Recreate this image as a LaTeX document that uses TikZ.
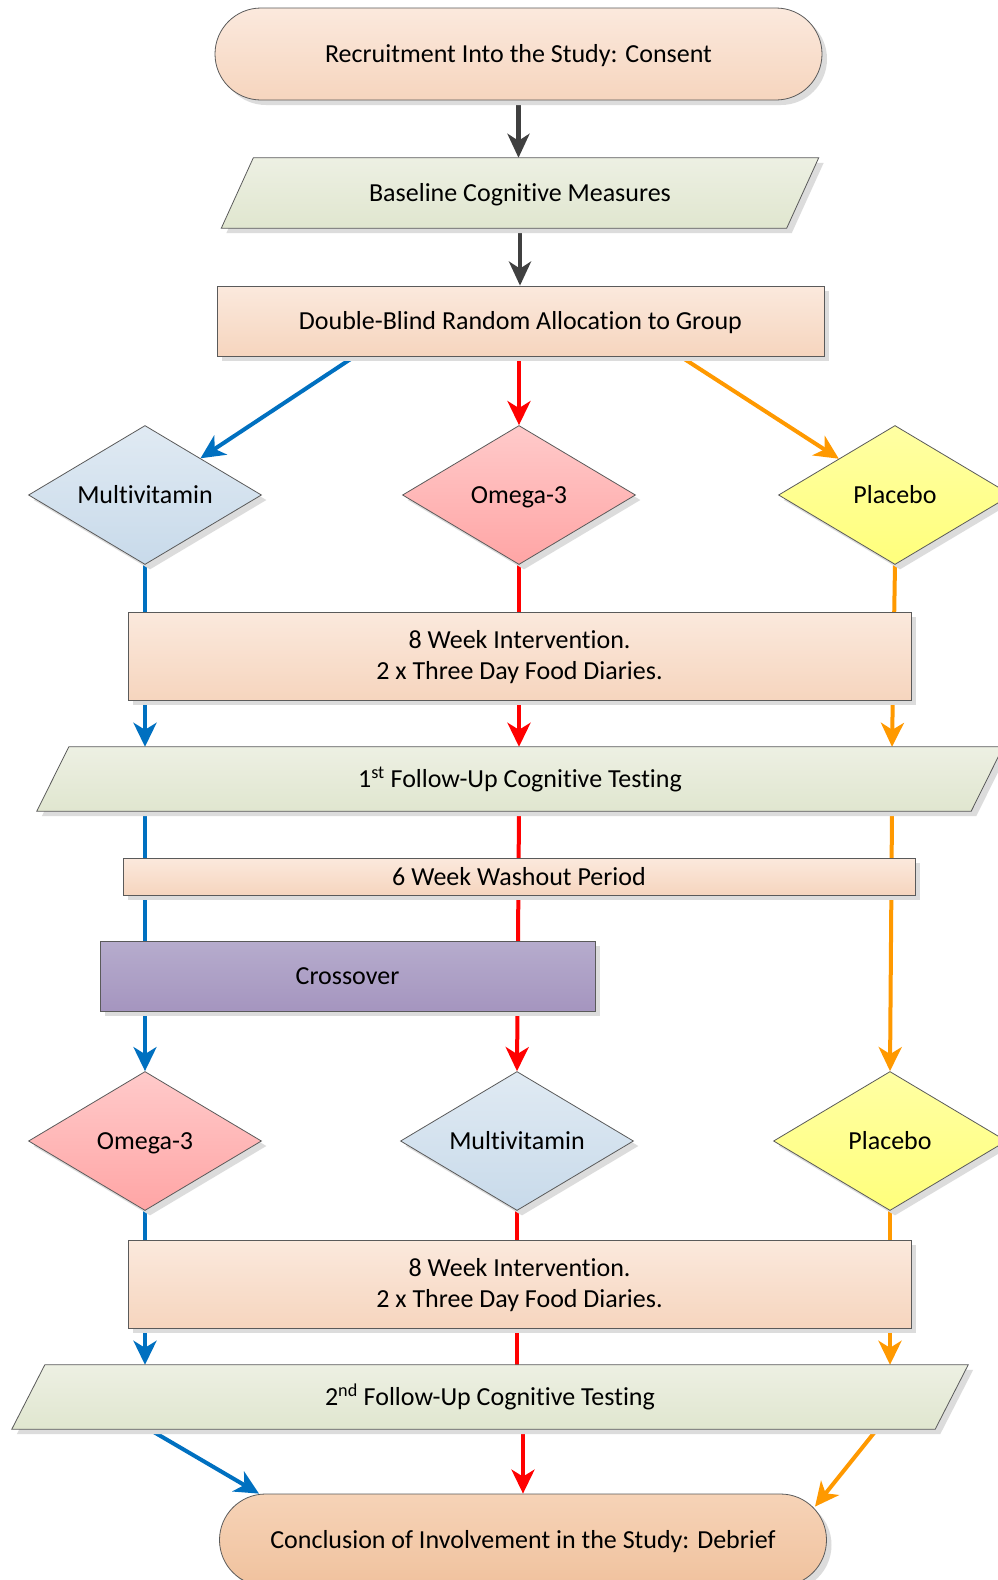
\documentclass[tikz,border=0pt]{standalone}
\usepackage{fontspec}
\setmainfont[Ligatures=NoCommon]{Carlito}
\usetikzlibrary{shapes.geometric,shadows,arrows.meta,calc}
\pgfdeclarelayer{bg}
\pgfdeclarelayer{mid}
\pgfsetlayers{bg,mid,main}
\definecolor{bordergray}{HTML}{5A5A5A}
\definecolor{shadowgray}{HTML}{DCDCDC}
\definecolor{peachT}{HTML}{FBE9DD}
\definecolor{peachB}{HTML}{F6D5BE}
\definecolor{concT}{HTML}{F6D3B7}
\definecolor{concB}{HTML}{F0C29E}
\definecolor{greenT}{HTML}{EDF0E3}
\definecolor{greenB}{HTML}{E0E6CF}
\definecolor{mvT}{HTML}{E0EAF3}
\definecolor{mvB}{HTML}{C8DAEA}
\definecolor{omT}{HTML}{FFCACA}
\definecolor{omB}{HTML}{FFA5A5}
\definecolor{plT}{HTML}{FFFFA3}
\definecolor{plB}{HTML}{FFFF7C}
\definecolor{crT}{HTML}{B6ACCD}
\definecolor{crB}{HTML}{A595BF}
\definecolor{arrgray}{HTML}{404040}
\definecolor{arrblue}{HTML}{0070C0}
\definecolor{arrred}{HTML}{FF0000}
\definecolor{arrorange}{HTML}{FF9900}
\tikzset{
  shad/.style={drop shadow={shadow xshift=5pt, shadow yshift=-5pt, fill=shadowgray, opacity=1}},
  oneline/.style={text height=19pt, text depth=2pt},
  base/.style={draw=bordergray, line width=0.8pt, shad, inner sep=0pt, align=center,
    font=\fontsize{26}{31}\selectfont},
  procbox/.style={base, rectangle, top color=peachT, bottom color=peachB},
  termbox/.style={base, oneline, rectangle, rounded corners=46pt, minimum width=607pt, minimum height=92pt},
  decis/.style={base, oneline, diamond, aspect=1.676, minimum width=233pt, minimum height=139pt},
  mvd/.style={decis, top color=mvT, bottom color=mvB},
  omd/.style={decis, top color=omT, bottom color=omB},
  pld/.style={decis, top color=plT, bottom color=plB},
  paratext/.style={rectangle, oneline, inner sep=0pt, align=center, font=\fontsize{26}{31}\selectfont},
  para/.style={draw=bordergray, line width=0.8pt, shad, top color=greenT, bottom color=greenB},
  conn/.style={line width=4pt, -{Stealth[length=24pt,width=23pt,inset=7pt]}},
  garrow/.style={conn, arrgray, line width=4.5pt, -{Stealth[length=24pt,width=22pt,inset=7pt]}},
  barrow/.style={conn, arrblue},
  rarrow/.style={conn, arrred},
  oarrow/.style={conn, arrorange},
  rline/.style={line width=4pt, arrred},
}
\newcommand\mkpara[2]{%
  \begin{pgfonlayer}{mid}
    \path[para] ([xshift=#2]#1.north west) -- ([xshift=#2]#1.north east)
      -- ([xshift=-#2]#1.south east) -- ([xshift=-#2]#1.south west) -- cycle;
  \end{pgfonlayer}}
\begin{document}
\begin{tikzpicture}[x=1pt, y=-1pt]
\useasboundingbox (0,0) rectangle (997,1580);
\begin{pgfonlayer}{bg}
  \fill[white] (0,0) rectangle (997,1580);
\end{pgfonlayer}

% nodes
\node[termbox, top color=peachT, bottom color=peachB] (rec) at (518.5,54) {Recruitment Into the Study: Consent};
\node[paratext, minimum width=565pt, minimum height=70pt] (bas) at (520,193) {Baseline Cognitive Measures};
\mkpara{bas}{16pt}
\node[procbox, oneline, minimum width=607pt, minimum height=70pt] (dbr) at (520.5,321) {Double-Blind Random Allocation to Group};
\node[mvd] (mv1) at (145,495) {Multivitamin};
\node[omd] (om1) at (519,495) {Omega-3};
\node[pld] (pl1) at (895,495) {Placebo};
\node[procbox, minimum width=783pt, minimum height=88pt] (box1) at (519.5,656) {\rule{0pt}{21pt}8 Week Intervention.\\2 x Three Day Food Diaries.};
\node[paratext, minimum width=934pt, minimum height=64pt] (fu1) at (520,779) {1\textsuperscript{st} Follow-Up Cognitive Testing};
\mkpara{fu1}{16pt}
\node[procbox, oneline, minimum width=792pt, minimum height=37pt] (wash) at (519,876.5) {6 Week Washout Period};
\node[base, oneline, rectangle, top color=crT, bottom color=crB, minimum width=495pt, minimum height=70pt] (cross) at (347.5,976) {Crossover};
\node[omd] (om2) at (145,1141) {Omega-3};
\node[mvd] (mv2) at (517,1141) {Multivitamin};
\node[pld] (pl2) at (890,1141) {Placebo};
\node[procbox, minimum width=783pt, minimum height=88pt] (box2) at (519.5,1284) {\rule{0pt}{21pt}8 Week Intervention.\\2 x Three Day Food Diaries.};
\node[paratext, minimum width=923pt, minimum height=64pt] (fu2) at (490,1397) {2\textsuperscript{nd} Follow-Up Cognitive Testing};
\mkpara{fu2}{16.5pt}
\node[termbox, top color=concT, bottom color=concB] (conc) at (523,1540) {Conclusion of Involvement in the Study: Debrief};

% connectors
\begin{pgfonlayer}{bg}
  \draw[garrow] (rec.south) -- (rec.south |- bas.north);
  \draw[garrow] (bas.south) -- (bas.south |- dbr.north);
  \draw[barrow] ($(dbr.south west)!0.227!(dbr.south east)$) -- (mv1);
  \draw[rarrow] (om1.north |- dbr.south) -- (om1.north);
  \draw[oarrow] ($(dbr.south west)!0.763!(dbr.south east)$) -- (pl1);
  \draw[barrow] (mv1.south) -- (mv1.south |- fu1.north);
  \draw[rarrow] (om1.south) -- (om1.south |- fu1.north);
  \draw[oarrow] (pl1.south) -- ([xshift=-3pt]pl1.south |- fu1.north);
  \draw[barrow] (om2.north |- fu1.south) -- (om2.north);
  \draw[rarrow] (om1.south |- fu1.south) -- (mv2.north);
  \draw[oarrow] ([xshift=-3pt]pl1.south |- fu1.south) -- (pl2.north);
  \draw[barrow] (om2.south) -- (om2.south |- fu2.north);
  \draw[rline] (mv2.south) -- (mv2.south |- fu2.north);
  \draw[oarrow] (pl2.south) -- (pl2.south |- fu2.north);
  \draw[barrow] ([xshift=4pt]om2.south |- fu2.south) -- ([xshift=-264pt]conc.north);
  \draw[rarrow] (conc.north |- fu2.south) -- (conc.north);
  \draw[oarrow] ([xshift=-13pt]pl2.south |- fu2.south) -- ([xshift=292pt,yshift=-13pt]conc.north);
\end{pgfonlayer}
\end{tikzpicture}
\end{document}
